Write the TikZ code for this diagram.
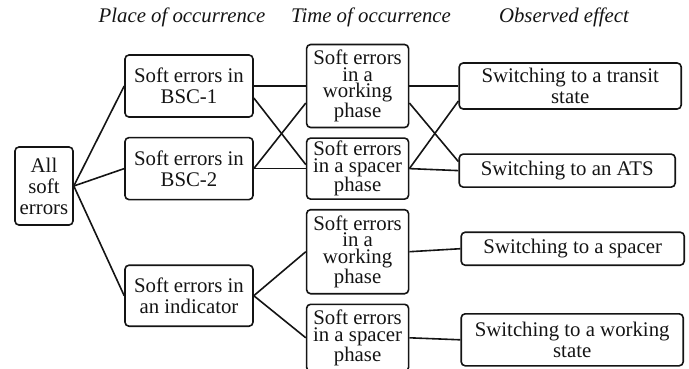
\documentclass[tikz,border=0pt]{standalone}
\usepackage{fontspec}
\setmainfont{Liberation Serif}
\usepackage{tikz}
\usetikzlibrary{positioning}
\usepackage{xcolor}
\definecolor{treeblack}{RGB}{20,20,20}
\tikzstyle{basebox} = [rectangle, rounded corners=4pt, draw=treeblack, line width=1.6pt, align=center, inner sep=0pt, text=treeblack, font=\fontsize{20.8}{21}\selectfont]
\tikzstyle{placebox} = [basebox, minimum width=128pt, minimum height=62pt]
\tikzstyle{phasebox} = [basebox, minimum width=102pt, font=\fontsize{20.8}{16.6}\selectfont]
\tikzstyle{effectbox} = [basebox, minimum width=222pt]
\tikzstyle{branch} = [line width=1.6pt, color=treeblack]
\tikzstyle{heading} = [font=\fontsize{20.8}{21}\selectfont\itshape, anchor=base, text=treeblack]

\begin{document}
\begin{tikzpicture}[x=1pt, y=-1pt]
\useasboundingbox (0,0) rectangle (689,368);

% Column headings
\node[heading] (hplace) at (182,22) {Place of occurrence};
\node[heading] (htime) at (371,22) {Time of occurrence};
\node[heading] (heffect) at (564,22) {Observed effect};

% Root and places of occurrence
\node[basebox, minimum width=58pt, minimum height=78pt] (all) at (44,186) {All\\soft\\errors};
\node[placebox] (bsc1) at (189,86) {Soft errors in\\BSC-1};
\node[placebox, below=19pt of bsc1] (bsc2) {Soft errors in\\BSC-2};
\node[placebox, minimum height=61pt, below=64pt of bsc2] (ind) {Soft errors in\\an indicator};

% Times of occurrence
\node[phasebox, minimum height=83pt, right=52pt of bsc1] (work1) {Soft errors\\in a\\working\\phase};
\node[phasebox, minimum height=61pt, right=52pt of bsc2] (spac1) {Soft errors\\in a spacer\\phase};
\node[phasebox, minimum height=84pt, below=9pt of spac1] (work2) {Soft errors\\in a\\working\\phase};
\node[phasebox, minimum height=67pt, below=9pt of work2] (spac2) {Soft errors\\in a spacer\\phase};

% Observed effects
\node[effectbox, minimum height=46pt, right=49pt of work1] (transit) {Switching to a transit\\state};
\node[effectbox, minimum width=216pt, minimum height=33pt, right=49pt of spac1, yshift=-2pt] (ats) {Switching to an ATS};
\node[effectbox, minimum width=223pt, minimum height=33pt, right=51pt of work2, yshift=3pt] (tospacer) {Switching to a spacer};
\node[effectbox, minimum height=52pt, right=51pt of spac2, yshift=-2pt] (toworking) {Switching to a working\\state};

% Branches
\draw[branch] (all.east) -- (bsc1.west);
\draw[branch] (all.east) -- (bsc2.west);
\draw[branch] (all.east) -- (ind.west);

\draw[branch] (bsc1.east) -- (work1.west);
\draw[branch] ([yshift=-12pt]bsc1.east) -- ([yshift=4pt]spac1.west);
\draw[branch] (bsc2.east) -- ([yshift=-17pt]work1.west);
\draw[branch] (bsc2.east) -- (spac1.west);
\draw[branch] (ind.east) -- (work2.west);
\draw[branch] (ind.east) -- (spac2.west);

\draw[branch] (work1.east) -- (transit.west);
\draw[branch] ([yshift=-17pt]work1.east) -- ([yshift=9pt]ats.west);
\draw[branch] (spac1.east) -- ([yshift=-15pt]transit.west);
\draw[branch] (spac1.east) -- (ats.west);
\draw[branch] (work2.east) -- (tospacer.west);
\draw[branch] (spac2.east) -- (toworking.west);
\end{tikzpicture}
\end{document}
